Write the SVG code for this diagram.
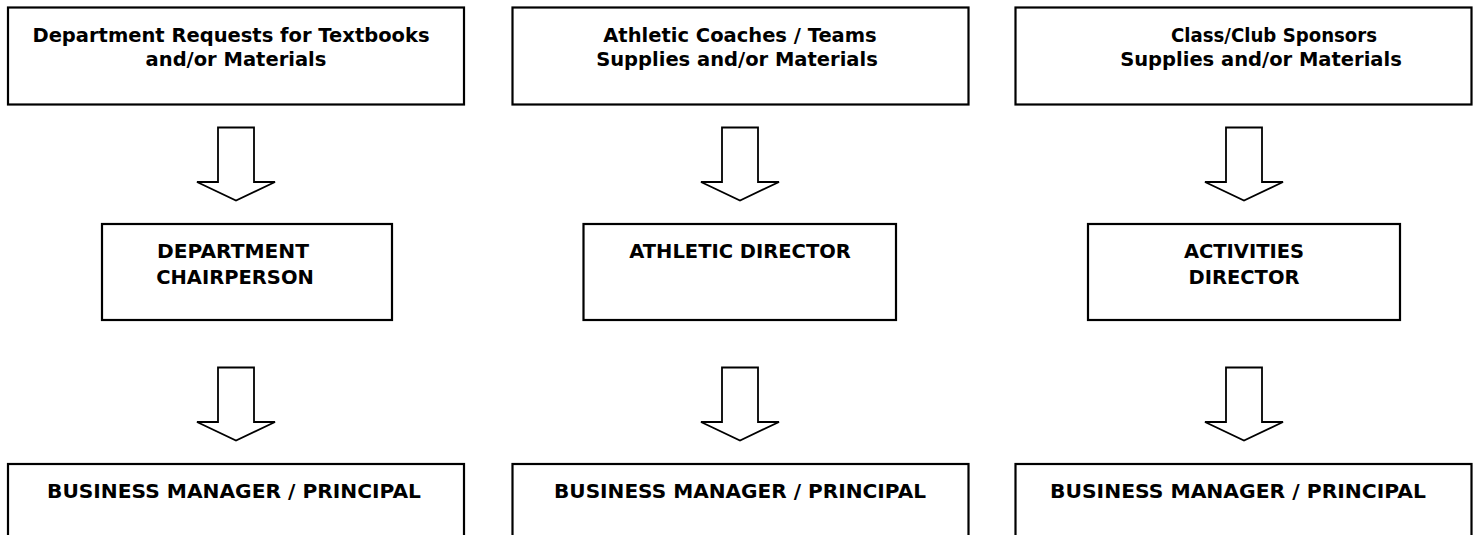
<svg xmlns="http://www.w3.org/2000/svg" width="1481" height="535" viewBox="0 0 1481 535">
  <style>
    .box { fill: #ffffff; stroke: #000000; stroke-width: 2.2; }
    .arrow { fill: #ffffff; stroke: #000000; stroke-width: 1.8; stroke-linejoin: miter; }
    text { font-family: "DejaVu Sans", "Liberation Sans", sans-serif; font-weight: bold; font-size: 19.5px; fill: #000000; text-anchor: middle; }
  </style>
  <defs>
    <!-- block arrow pointing down, origin at the top centre of the shaft -->
    <path id="blockArrow" class="arrow" d="M -18 0 L 18 0 L 18 54.5 L 39 54.5 L 0 73 L -39 54.5 L -18 54.5 Z"/>
  </defs>

  <rect width="1481" height="535" fill="#ffffff"/>

  <!-- top row: request sources -->
  <g id="dept-requests">
    <rect class="box" x="8" y="7.5" width="456" height="97"/>
    <text x="231" y="41.5">Department Requests for Textbooks</text>
    <text x="236" y="65.5">and/or Materials</text>
  </g>
  <g id="athletic-coaches">
    <rect class="box" x="512.5" y="7.5" width="456" height="97"/>
    <text x="740" y="41.5">Athletic Coaches / Teams</text>
    <text x="737" y="65.5">Supplies and/or Materials</text>
  </g>
  <g id="club-sponsors">
    <rect class="box" x="1015.5" y="7.5" width="456" height="97"/>
    <text x="1274" y="41.5" textLength="206" lengthAdjust="spacingAndGlyphs">Class/Club Sponsors</text>
    <text x="1261" y="65.5">Supplies and/or Materials</text>
  </g>

  <!-- middle row: approvers -->
  <g id="dept-chairperson">
    <rect class="box" x="102" y="224" width="290" height="96"/>
    <text x="233" y="258" textLength="152" lengthAdjust="spacingAndGlyphs">DEPARTMENT</text>
    <text x="235" y="284">CHAIRPERSON</text>
  </g>
  <g id="athletic-director">
    <rect class="box" x="583.5" y="224" width="312.5" height="96"/>
    <text x="740" y="258">ATHLETIC DIRECTOR</text>
  </g>
  <g id="activities-director">
    <rect class="box" x="1088" y="224" width="312" height="96"/>
    <text x="1244" y="258">ACTIVITIES</text>
    <text x="1244" y="284">DIRECTOR</text>
  </g>

  <!-- bottom row: final approval, boxes run past the lower edge -->
  <g id="business-manager-1">
    <rect class="box" x="8" y="464" width="456" height="100"/>
    <text x="234" y="498" textLength="374" lengthAdjust="spacingAndGlyphs">BUSINESS MANAGER / PRINCIPAL</text>
  </g>
  <g id="business-manager-2">
    <rect class="box" x="512.5" y="464" width="456" height="100"/>
    <text x="740" y="498" textLength="372" lengthAdjust="spacingAndGlyphs">BUSINESS MANAGER / PRINCIPAL</text>
  </g>
  <g id="business-manager-3">
    <rect class="box" x="1015.5" y="464" width="456" height="100"/>
    <text x="1238" y="498" textLength="376" lengthAdjust="spacingAndGlyphs">BUSINESS MANAGER / PRINCIPAL</text>
  </g>

  <!-- connectors: hollow block arrows -->
  <g id="connectors">
    <use href="#blockArrow" x="236" y="127.5"/>
    <use href="#blockArrow" x="740" y="127.5"/>
    <use href="#blockArrow" x="1244" y="127.5"/>
    <use href="#blockArrow" x="236" y="367.5"/>
    <use href="#blockArrow" x="740" y="367.5"/>
    <use href="#blockArrow" x="1244" y="367.5"/>
  </g>
</svg>
